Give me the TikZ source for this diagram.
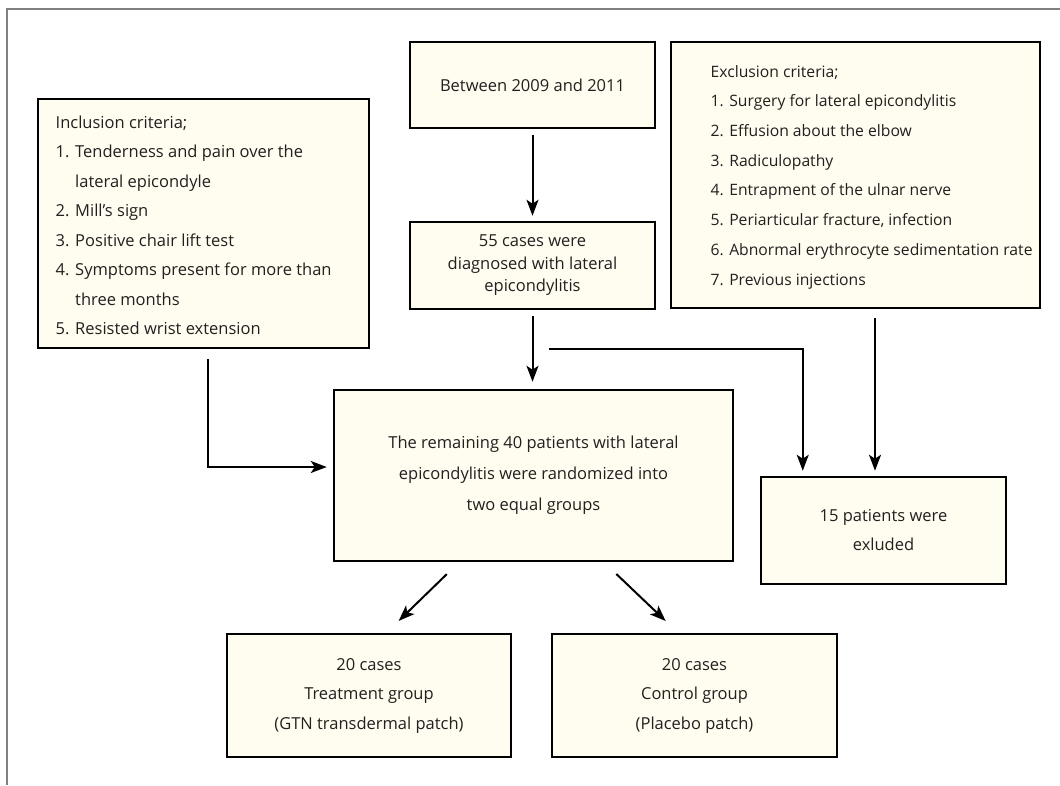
\documentclass[tikz,border=0pt]{standalone}
\usepackage{fontspec}
\setmainfont{Open Sans}
\usetikzlibrary{arrows.meta}
\definecolor{boxfill}{HTML}{FFFDF0}
\definecolor{ink}{HTML}{231F20}
\tikzset{
  box/.style={draw=black, line width=2.5pt, fill=boxfill, text=ink, align=center, inner sep=0pt,
    font=\fontsize{16.5}{29.5}\selectfont},
  listtext/.style={text=ink, align=left, inner sep=0pt, anchor=north west,
    font=\fontsize{16.5}{29.5}\selectfont},
  arr/.style={line width=2pt, -{Stealth[length=16pt,width=12pt,inset=4pt]}},
}

\begin{document}
\begin{tikzpicture}[x=1pt, y=-1pt]
        \useasboundingbox (0,0) rectangle (1060,785);
        \draw[gray, line width=1.2pt] (7,785) -- (7,9) -- (1060,9);

        \node[box, minimum width=331, minimum height=249] (incl) at (203.5, 223.5) {};
        \node[listtext] (incltext) at (55.5, 115.5) {Inclusion criteria;\\
            1. Tenderness and pain over the\\ \hphantom{1. }lateral epicondyle\\
            2. Mill’s sign\\ 3. Positive chair lift test\\
            4. Symptoms present for more than\\ \hphantom{4. }three months\\
            5. Resisted wrist extension};
        \node[box, minimum width=245, minimum height=86] (period) at (532.5, 85) {Between 2009 and 2011};
        \node[box, minimum width=245, minimum height=87, font=\fontsize{16.5}{22.5}\selectfont] (cases55) at (532.5, 265.5)
            {55 cases were\\ diagnosed with lateral\\ epicondylitis};
        \node[box, minimum width=369, minimum height=266] (excl) at (855.5, 175) {};
        \node[listtext, font=\fontsize{15.7}{29.7}\selectfont] (excltext) at (710.5, 65) {Exclusion criteria;\\
            1. Surgery for lateral epicondylitis\\ 2. Effusion about the elbow\\
            3. Radiculopathy\\ 4. Entrapment of the ulnar nerve\\
            5. Periarticular fracture, infection\\ 6. Abnormal erythrocyte sedimentation rate\\
            7. Previous injections};
        \node[box, minimum width=399, minimum height=171, font=\fontsize{16.5}{31}\selectfont] (central) at (533.5, 475.5)
            {The remaining 40 patients with lateral\\ epicondylitis were randomized into\\ two equal groups};
        \node[box, minimum width=245, minimum height=107, font=\fontsize{16.5}{29}\selectfont] (out) at (883.5, 530.5)
            {15 patients were\\ exluded};
        \node[box, minimum width=284, minimum height=123] (treat) at (369, 695.5)
            {20 cases\\ Treatment group\\ (GTN transdermal patch)};
        \node[box, minimum width=285, minimum height=123] (ctrl) at (694.5, 695.5)
            {20 cases\\ Control group\\ (Placebo patch)};

        \coordinate (split) at (549, 349);
        \draw[arr, shorten <=6pt, shorten >=5pt] (period.south) -- (cases55.north);
        \draw[arr, shorten <=6pt, shorten >=7pt] (cases55.south) -- (cases55.south |- central.north);
        \draw[arr, shorten >=5pt] (split) -| ([xshift=43pt]out.north west);
        \draw[arr, shorten <=9pt, shorten >=5pt] ([xshift=19.5pt]excl.south) -- ([xshift=19.5pt]excl.south |- out.north);
        \draw[arr, shorten <=10pt, shorten >=6pt] ([xshift=4.5pt]incl.south) |- ([yshift=8.5pt]central.west);
        \draw[arr, shorten <=17pt, shorten >=17pt] ([xshift=-74.5pt]central.south) -- ([xshift=17.5pt]treat.north);
        \draw[arr, shorten <=17pt, shorten >=17pt] ([xshift=70.5pt]central.south) -- ([xshift=-16.5pt]ctrl.north);
\end{tikzpicture}
\end{document}
